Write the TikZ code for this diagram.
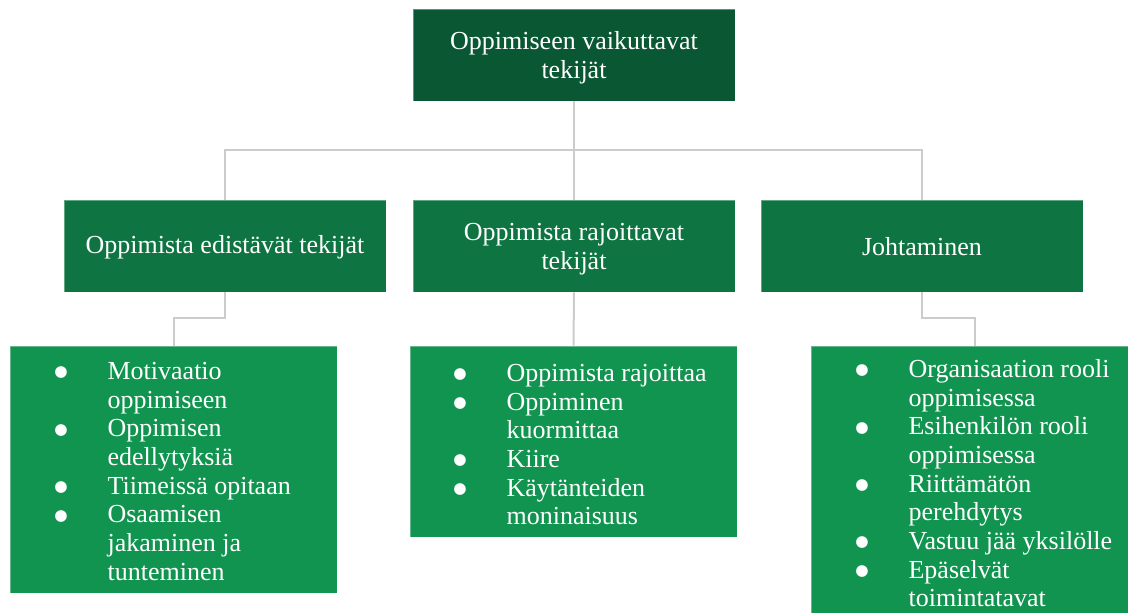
\documentclass[tikz,border=0pt]{standalone}
\usepackage{fontspec}
\setmainfont{Liberation Serif}
\newfontfamily\symfont{DejaVu Sans}
\usepackage{array}
\definecolor{topgreen}{HTML}{0A5833}
\definecolor{midgreen}{HTML}{0E7542}
\definecolor{lowgreen}{HTML}{11944F}
\definecolor{linkgray}{HTML}{CCCCCC}
\newcommand{\boxfont}{\fontsize{19.5}{21.5}\selectfont}
\newcommand{\bul}{\raisebox{2pt}{\symfont\fontsize{11.5}{11.5}\selectfont ●}}
\newcommand{\blist}[1]{{\boxfont\begin{tabular}{@{}p{40pt}@{}l@{}}#1\end{tabular}}}
\tikzset{
  box/.style={rectangle, draw=white, draw opacity=0.35, line width=0.6pt,
    inner sep=0pt},
  boxtext/.style={text=white, align=center, inner sep=0pt, font=\boxfont},
  link/.style={draw=linkgray, line width=1.5pt},
  listtext/.style={anchor=north west, inner sep=0pt, text=white, align=left}
}
\begin{document}
\begin{tikzpicture}[x=0.75pt,y=-0.75pt]
\useasboundingbox (0,0) rectangle (1128,613);
\clip (0,0) rectangle (1128,613);

% root
\node[box, fill=topgreen, minimum width=241.5pt, minimum height=69pt] (root) at (574,55) {};
\node[boxtext] (rootT) at (574,58) {Oppimiseen vaikuttavat\\tekijät};

% second level
\node[box, fill=midgreen, minimum width=241.5pt, minimum height=69pt] (edist) at (225,246) {};
\node[box, fill=midgreen, minimum width=241.5pt, minimum height=69pt] (rajoit) at (574,246) {};
\node[box, fill=midgreen, minimum width=241.5pt, minimum height=69pt] (johto) at (922,246) {};
\node[boxtext] (edistT0) at (225,247) {Oppimista edistävät tekijät};
\node[boxtext] (rajoitT0) at (574,249) {Oppimista rajoittavat\\tekijät};
\node[boxtext] (johtoT0) at (922,247) {Johtaminen};

% third level boxes
\node[box, fill=lowgreen, minimum width=245.25pt, minimum height=185.25pt] (edistL) at (173.5,469.5) {};
\node[box, fill=lowgreen, minimum width=245.25pt, minimum height=143.25pt] (rajoitL) at (573.5,441.5) {};
\node[box, fill=lowgreen, minimum width=245.25pt, minimum height=220.5pt] (johtoL) at (974.5,493) {};

% bullet lists
\node[listtext] (edistT) at (54,359) {\blist{
  \bul & Motivaatio\\
       & oppimiseen\\
  \bul & Oppimisen\\
       & edellytyksiä\\
  \bul & Tiimeissä opitaan\\
  \bul & Osaamisen\\
       & jakaminen ja\\
       & tunteminen}};
\node[listtext] (rajoitT) at (453,361) {\blist{
  \bul & Oppimista rajoittaa\\
  \bul & Oppiminen\\
       & kuormittaa\\
  \bul & Kiire\\
  \bul & Käytänteiden\\
       & moninaisuus}};
\node[listtext] (johtoT) at (855,357) {\blist{
  \bul & Organisaation rooli\\
       & oppimisessa\\
  \bul & Esihenkilön rooli\\
       & oppimisessa\\
  \bul & Riittämätön\\
       & perehdytys\\
  \bul & Vastuu jää yksilölle\\
  \bul & Epäselvät\\
       & toimintatavat}};

% connectors
\coordinate (bus) at (574,150);
\draw[link] (root.south) -- (bus);
\draw[link] (edist.north) |- (bus) -| (johto.north);
\draw[link] (bus) -- (rajoit.north);
\draw[link] (edist.south) -- ++(0,26) -| (edistL.north);
\draw[link] (rajoit.south) -- (rajoitL.north);
\draw[link] (johto.south) -- ++(0,26) -| (johtoL.north);
\end{tikzpicture}
\end{document}
